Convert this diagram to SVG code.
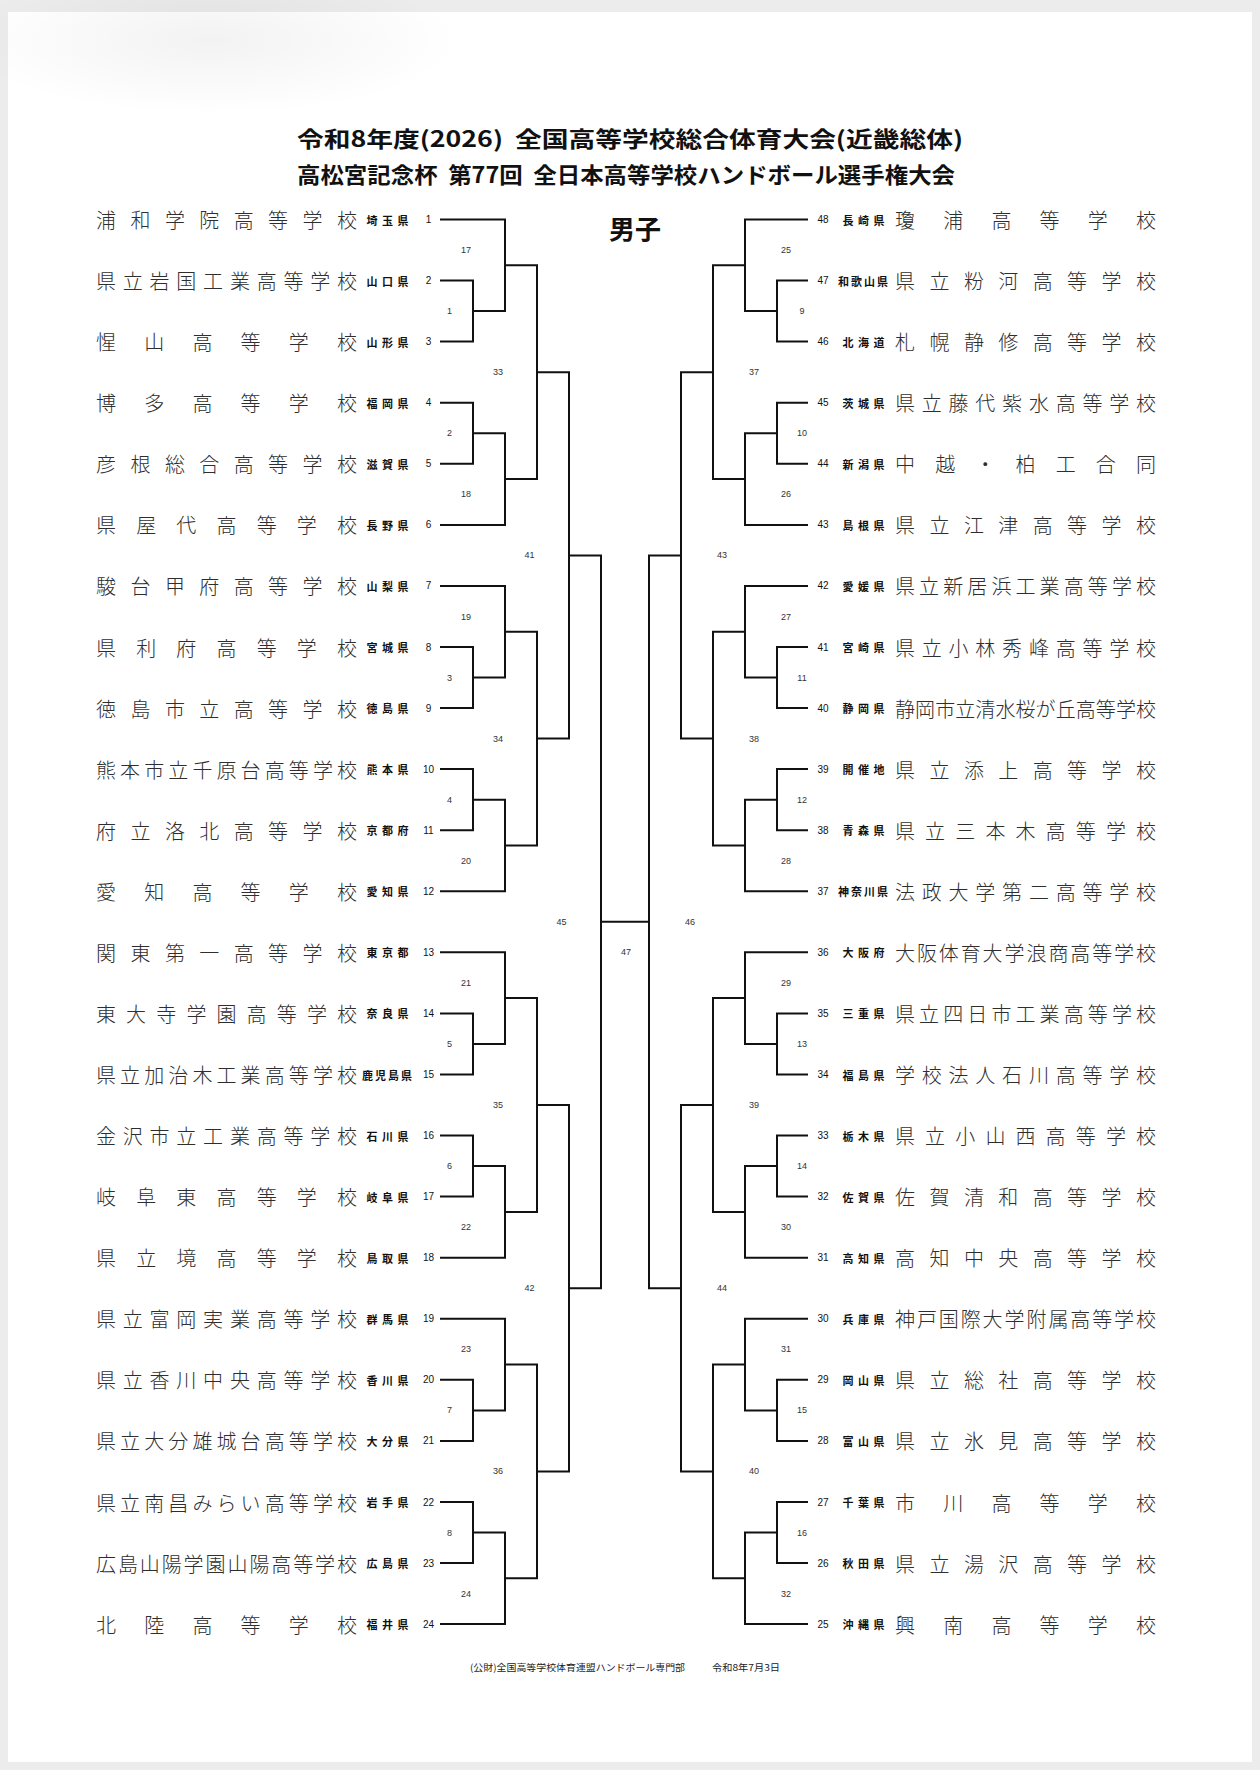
<svg xmlns="http://www.w3.org/2000/svg" width="1260" height="1770" viewBox="0 0 1260 1770">
<defs>
<radialGradient id="shade" cx="0.5" cy="0.5" r="0.5">
<stop offset="0" stop-color="#000" stop-opacity="0.05"/>
<stop offset="1" stop-color="#000" stop-opacity="0"/>
</radialGradient>
<style>
.nm{font-family:"Noto Sans CJK JP","Noto Sans CJK SC",sans-serif;font-size:20px;font-weight:300;fill:#2e2e2e;dominant-baseline:central}
.pf{font-family:"Noto Sans CJK JP","Noto Sans CJK SC",sans-serif;font-size:11px;font-weight:bold;fill:#111;dominant-baseline:central}
.no{font-family:"Liberation Sans",Arial,sans-serif;font-size:10px;fill:#111;text-anchor:middle;dominant-baseline:central}
.lb{font-family:"Liberation Sans",Arial,sans-serif;font-size:9px;fill:#333;text-anchor:middle;dominant-baseline:central}
.ttl{font-family:"Noto Sans CJK JP","Noto Sans CJK SC",sans-serif;font-weight:bold;fill:#111;text-anchor:middle;dominant-baseline:central}
.ft{font-family:"Noto Sans CJK JP","Noto Sans CJK SC",sans-serif;font-size:9.5px;fill:#222;dominant-baseline:central}
.ln{fill:none;stroke:#111;stroke-width:2;stroke-linejoin:miter;stroke-linecap:butt}
</style>
</defs>
<rect width="1260" height="1770" fill="#ececec"/>
<rect x="8" y="12" width="1244" height="1750" fill="#ffffff"/>
<ellipse cx="210" cy="40" rx="250" ry="75" fill="url(#shade)"/>

<g id="title">
<text class="ttl" x="630" y="136.5" font-size="22" textLength="666" lengthAdjust="spacingAndGlyphs">令和8年度(2026)&#160;&#160;全国高等学校総合体育大会(近畿総体)</text>
<text class="ttl" x="626" y="173" font-size="22" textLength="658" lengthAdjust="spacingAndGlyphs">高松宮記念杯&#160;&#160;第77回&#160;&#160;全日本高等学校ハンドボール選手権大会</text>
<text class="ttl" x="635" y="227" font-size="26">男子</text>
</g>

<g id="connectors" class="ln">
<path d="M440,219.5H505V311.1H473M440,280.6H473V341.6H440M440,402.7H473V463.8H440M473,433.2H505V524.9H440M505,265.3H537V479.1H505"/>
<path d="M440,585.9H505V677.5H473M440,647H473V708.1H440M440,769.1H473V830.2H440M473,799.7H505V891.3H440M505,631.7H537V845.5H505"/>
<path d="M440,952.3H505V1044H473M440,1013.4H473V1074.5H440M440,1135.6H473V1196.6H440M473,1166.1H505V1257.7H440M505,998.1H537V1211.9H505"/>
<path d="M440,1318.8H505V1410.4H473M440,1379.8H473V1440.9H440M440,1502H473V1563H440M473,1532.5H505V1624.1H440M505,1364.6H537V1578.3H505"/>
<path d="M537,372.2H569V738.6H537M537,1105H569V1471.4H537M569,555.4H601V1288.2H569"/>
<path d="M808,219.5H745V311.1H777M808,280.6H777V341.6H808M808,402.7H777V463.8H808M777,433.2H745V524.9H808M745,265.3H713V479.1H745"/>
<path d="M808,585.9H745V677.5H777M808,647H777V708.1H808M808,769.1H777V830.2H808M777,799.7H745V891.3H808M745,631.7H713V845.5H745"/>
<path d="M808,952.3H745V1044H777M808,1013.4H777V1074.5H808M808,1135.6H777V1196.6H808M777,1166.1H745V1257.7H808M745,998.1H713V1211.9H745"/>
<path d="M808,1318.8H745V1410.4H777M808,1379.8H777V1440.9H808M808,1502H777V1563H808M777,1532.5H745V1624.1H808M745,1364.6H713V1578.3H745"/>
<path d="M713,372.2H681V738.6H713M713,1105H681V1471.4H713M681,555.4H649V1288.2H681"/>
<path d="M601,921.8H649"/>
</g>

<g id="match-labels" class="lb">
<text x="466" y="250">17</text><text x="449.5" y="311.1">1</text><text x="498" y="372.2">33</text><text x="449.5" y="433.2">2</text><text x="466" y="494.3">18</text><text x="529.5" y="555.4">41</text>
<text x="466" y="616.5">19</text><text x="449.5" y="677.5">3</text><text x="498" y="738.6">34</text><text x="449.5" y="799.7">4</text><text x="466" y="860.7">20</text><text x="561.5" y="921.8">45</text>
<text x="466" y="982.9">21</text><text x="449.5" y="1044">5</text><text x="498" y="1105">35</text><text x="449.5" y="1166.1">6</text><text x="466" y="1227.2">22</text><text x="529.5" y="1288.2">42</text>
<text x="466" y="1349.3">23</text><text x="449.5" y="1410.4">7</text><text x="498" y="1471.4">36</text><text x="449.5" y="1532.5">8</text><text x="466" y="1593.6">24</text>
<text x="786" y="250">25</text><text x="802" y="311.1">9</text><text x="754" y="372.2">37</text><text x="802" y="433.2">10</text><text x="786" y="494.3">26</text><text x="722" y="555.4">43</text>
<text x="786" y="616.5">27</text><text x="802" y="677.5">11</text><text x="754" y="738.6">38</text><text x="802" y="799.7">12</text><text x="786" y="860.7">28</text><text x="690" y="921.8">46</text>
<text x="786" y="982.9">29</text><text x="802" y="1044">13</text><text x="754" y="1105">39</text><text x="802" y="1166.1">14</text><text x="786" y="1227.2">30</text><text x="722" y="1288.2">44</text>
<text x="786" y="1349.3">31</text><text x="802" y="1410.4">15</text><text x="754" y="1471.4">40</text><text x="802" y="1532.5">16</text><text x="786" y="1593.6">32</text>
<text x="626" y="952.3">47</text>
</g>

<g id="t1"><text class="nm" x="96 130.4 164.9 199.3 233.7 268.1 302.6 337" y="219.5">浦和学院高等学校</text><text class="pf" x="366.5 382 397.5" y="219.5">埼玉県</text><text class="no" x="428.5" y="219.5">1</text></g>
<g id="t2"><text class="nm" x="96 122.8 149.6 176.3 203.1 229.9 256.7 283.4 310.2 337" y="280.6">県立岩国工業高等学校</text><text class="pf" x="366.5 382 397.5" y="280.6">山口県</text><text class="no" x="428.5" y="280.6">2</text></g>
<g id="t3"><text class="nm" x="96 144.2 192.4 240.6 288.8 337" y="341.6">惺山高等学校</text><text class="pf" x="366.5 382 397.5" y="341.6">山形県</text><text class="no" x="428.5" y="341.6">3</text></g>
<g id="t4"><text class="nm" x="96 144.2 192.4 240.6 288.8 337" y="402.7">博多高等学校</text><text class="pf" x="366.5 382 397.5" y="402.7">福岡県</text><text class="no" x="428.5" y="402.7">4</text></g>
<g id="t5"><text class="nm" x="96 130.4 164.9 199.3 233.7 268.1 302.6 337" y="463.8">彦根総合高等学校</text><text class="pf" x="366.5 382 397.5" y="463.8">滋賀県</text><text class="no" x="428.5" y="463.8">5</text></g>
<g id="t6"><text class="nm" x="96 136.2 176.3 216.5 256.7 296.8 337" y="524.9">県屋代高等学校</text><text class="pf" x="366.5 382 397.5" y="524.9">長野県</text><text class="no" x="428.5" y="524.9">6</text></g>
<g id="t7"><text class="nm" x="96 130.4 164.9 199.3 233.7 268.1 302.6 337" y="585.9">駿台甲府高等学校</text><text class="pf" x="366.5 382 397.5" y="585.9">山梨県</text><text class="no" x="428.5" y="585.9">7</text></g>
<g id="t8"><text class="nm" x="96 136.2 176.3 216.5 256.7 296.8 337" y="647">県利府高等学校</text><text class="pf" x="366.5 382 397.5" y="647">宮城県</text><text class="no" x="428.5" y="647">8</text></g>
<g id="t9"><text class="nm" x="96 130.4 164.9 199.3 233.7 268.1 302.6 337" y="708.1">徳島市立高等学校</text><text class="pf" x="366.5 382 397.5" y="708.1">徳島県</text><text class="no" x="428.5" y="708.1">9</text></g>
<g id="t10"><text class="nm" x="96 120.1 144.2 168.3 192.4 216.5 240.6 264.7 288.8 312.9 337" y="769.1">熊本市立千原台高等学校</text><text class="pf" x="366.5 382 397.5" y="769.1">熊本県</text><text class="no" x="428.5" y="769.1">10</text></g>
<g id="t11"><text class="nm" x="96 130.4 164.9 199.3 233.7 268.1 302.6 337" y="830.2">府立洛北高等学校</text><text class="pf" x="366.5 382 397.5" y="830.2">京都府</text><text class="no" x="428.5" y="830.2">11</text></g>
<g id="t12"><text class="nm" x="96 144.2 192.4 240.6 288.8 337" y="891.3">愛知高等学校</text><text class="pf" x="366.5 382 397.5" y="891.3">愛知県</text><text class="no" x="428.5" y="891.3">12</text></g>
<g id="t13"><text class="nm" x="96 130.4 164.9 199.3 233.7 268.1 302.6 337" y="952.3">関東第一高等学校</text><text class="pf" x="366.5 382 397.5" y="952.3">東京都</text><text class="no" x="428.5" y="952.3">13</text></g>
<g id="t14"><text class="nm" x="96 126.1 156.3 186.4 216.5 246.6 276.8 306.9 337" y="1013.4">東大寺学園高等学校</text><text class="pf" x="366.5 382 397.5" y="1013.4">奈良県</text><text class="no" x="428.5" y="1013.4">14</text></g>
<g id="t15"><text class="nm" x="96 120.1 144.2 168.3 192.4 216.5 240.6 264.7 288.8 312.9 337" y="1074.5">県立加治木工業高等学校</text><text class="pf" x="362 375 388 401" y="1074.5">鹿児島県</text><text class="no" x="428.5" y="1074.5">15</text></g>
<g id="t16"><text class="nm" x="96 122.8 149.6 176.3 203.1 229.9 256.7 283.4 310.2 337" y="1135.6">金沢市立工業高等学校</text><text class="pf" x="366.5 382 397.5" y="1135.6">石川県</text><text class="no" x="428.5" y="1135.6">16</text></g>
<g id="t17"><text class="nm" x="96 136.2 176.3 216.5 256.7 296.8 337" y="1196.6">岐阜東高等学校</text><text class="pf" x="366.5 382 397.5" y="1196.6">岐阜県</text><text class="no" x="428.5" y="1196.6">17</text></g>
<g id="t18"><text class="nm" x="96 136.2 176.3 216.5 256.7 296.8 337" y="1257.7">県立境高等学校</text><text class="pf" x="366.5 382 397.5" y="1257.7">鳥取県</text><text class="no" x="428.5" y="1257.7">18</text></g>
<g id="t19"><text class="nm" x="96 122.8 149.6 176.3 203.1 229.9 256.7 283.4 310.2 337" y="1318.8">県立富岡実業高等学校</text><text class="pf" x="366.5 382 397.5" y="1318.8">群馬県</text><text class="no" x="428.5" y="1318.8">19</text></g>
<g id="t20"><text class="nm" x="96 122.8 149.6 176.3 203.1 229.9 256.7 283.4 310.2 337" y="1379.8">県立香川中央高等学校</text><text class="pf" x="366.5 382 397.5" y="1379.8">香川県</text><text class="no" x="428.5" y="1379.8">20</text></g>
<g id="t21"><text class="nm" x="96 120.1 144.2 168.3 192.4 216.5 240.6 264.7 288.8 312.9 337" y="1440.9">県立大分雄城台高等学校</text><text class="pf" x="366.5 382 397.5" y="1440.9">大分県</text><text class="no" x="428.5" y="1440.9">21</text></g>
<g id="t22"><text class="nm" x="96 120.1 144.2 168.3 192.4 216.5 240.6 264.7 288.8 312.9 337" y="1502">県立南昌みらい高等学校</text><text class="pf" x="366.5 382 397.5" y="1502">岩手県</text><text class="no" x="428.5" y="1502">22</text></g>
<g id="t23"><text class="nm" x="96 117.9 139.8 161.7 183.6 205.5 227.5 249.4 271.3 293.2 315.1 337" y="1563">広島山陽学園山陽高等学校</text><text class="pf" x="366.5 382 397.5" y="1563">広島県</text><text class="no" x="428.5" y="1563">23</text></g>
<g id="t24"><text class="nm" x="96 144.2 192.4 240.6 288.8 337" y="1624.1">北陸高等学校</text><text class="pf" x="366.5 382 397.5" y="1624.1">福井県</text><text class="no" x="428.5" y="1624.1">24</text></g>

<g id="t48"><text class="no" x="823" y="219.5">48</text><text class="pf" x="842.5 858 873.5" y="219.5">長崎県</text><text class="nm" x="895 943.2 991.4 1039.6 1087.8 1136" y="219.5">瓊浦高等学校</text></g>
<g id="t47"><text class="no" x="823" y="280.6">47</text><text class="pf" x="838 851 864 877" y="280.6">和歌山県</text><text class="nm" x="895 929.4 963.9 998.3 1032.7 1067.1 1101.6 1136" y="280.6">県立粉河高等学校</text></g>
<g id="t46"><text class="no" x="823" y="341.6">46</text><text class="pf" x="842.5 858 873.5" y="341.6">北海道</text><text class="nm" x="895 929.4 963.9 998.3 1032.7 1067.1 1101.6 1136" y="341.6">札幌静修高等学校</text></g>
<g id="t45"><text class="no" x="823" y="402.7">45</text><text class="pf" x="842.5 858 873.5" y="402.7">茨城県</text><text class="nm" x="895 921.8 948.6 975.3 1002.1 1028.9 1055.7 1082.4 1109.2 1136" y="402.7">県立藤代紫水高等学校</text></g>
<g id="t44"><text class="no" x="823" y="463.8">44</text><text class="pf" x="842.5 858 873.5" y="463.8">新潟県</text><text class="nm" x="895 935.2 975.3 1015.5 1055.7 1095.8 1136" y="463.8">中越・柏工合同</text></g>
<g id="t43"><text class="no" x="823" y="524.9">43</text><text class="pf" x="842.5 858 873.5" y="524.9">島根県</text><text class="nm" x="895 929.4 963.9 998.3 1032.7 1067.1 1101.6 1136" y="524.9">県立江津高等学校</text></g>
<g id="t42"><text class="no" x="823" y="585.9">42</text><text class="pf" x="842.5 858 873.5" y="585.9">愛媛県</text><text class="nm" x="895 919.1 943.2 967.3 991.4 1015.5 1039.6 1063.7 1087.8 1111.9 1136" y="585.9">県立新居浜工業高等学校</text></g>
<g id="t41"><text class="no" x="823" y="647">41</text><text class="pf" x="842.5 858 873.5" y="647">宮崎県</text><text class="nm" x="895 921.8 948.6 975.3 1002.1 1028.9 1055.7 1082.4 1109.2 1136" y="647">県立小林秀峰高等学校</text></g>
<g id="t40"><text class="no" x="823" y="708.1">40</text><text class="pf" x="842.5 858 873.5" y="708.1">静岡県</text><text class="nm" x="895 915.1 935.2 955.3 975.3 995.4 1015.5 1035.6 1055.7 1075.8 1095.8 1115.9 1136" y="708.1">静岡市立清水桜が丘高等学校</text></g>
<g id="t39"><text class="no" x="823" y="769.1">39</text><text class="pf" x="842.5 858 873.5" y="769.1">開催地</text><text class="nm" x="895 929.4 963.9 998.3 1032.7 1067.1 1101.6 1136" y="769.1">県立添上高等学校</text></g>
<g id="t38"><text class="no" x="823" y="830.2">38</text><text class="pf" x="842.5 858 873.5" y="830.2">青森県</text><text class="nm" x="895 925.1 955.3 985.4 1015.5 1045.6 1075.8 1105.9 1136" y="830.2">県立三本木高等学校</text></g>
<g id="t37"><text class="no" x="823" y="891.3">37</text><text class="pf" x="838 851 864 877" y="891.3">神奈川県</text><text class="nm" x="895 921.8 948.6 975.3 1002.1 1028.9 1055.7 1082.4 1109.2 1136" y="891.3">法政大学第二高等学校</text></g>
<g id="t36"><text class="no" x="823" y="952.3">36</text><text class="pf" x="842.5 858 873.5" y="952.3">大阪府</text><text class="nm" x="895 916.9 938.8 960.7 982.6 1004.5 1026.5 1048.4 1070.3 1092.2 1114.1 1136" y="952.3">大阪体育大学浪商高等学校</text></g>
<g id="t35"><text class="no" x="823" y="1013.4">35</text><text class="pf" x="842.5 858 873.5" y="1013.4">三重県</text><text class="nm" x="895 919.1 943.2 967.3 991.4 1015.5 1039.6 1063.7 1087.8 1111.9 1136" y="1013.4">県立四日市工業高等学校</text></g>
<g id="t34"><text class="no" x="823" y="1074.5">34</text><text class="pf" x="842.5 858 873.5" y="1074.5">福島県</text><text class="nm" x="895 921.8 948.6 975.3 1002.1 1028.9 1055.7 1082.4 1109.2 1136" y="1074.5">学校法人石川高等学校</text></g>
<g id="t33"><text class="no" x="823" y="1135.6">33</text><text class="pf" x="842.5 858 873.5" y="1135.6">栃木県</text><text class="nm" x="895 925.1 955.3 985.4 1015.5 1045.6 1075.8 1105.9 1136" y="1135.6">県立小山西高等学校</text></g>
<g id="t32"><text class="no" x="823" y="1196.6">32</text><text class="pf" x="842.5 858 873.5" y="1196.6">佐賀県</text><text class="nm" x="895 929.4 963.9 998.3 1032.7 1067.1 1101.6 1136" y="1196.6">佐賀清和高等学校</text></g>
<g id="t31"><text class="no" x="823" y="1257.7">31</text><text class="pf" x="842.5 858 873.5" y="1257.7">高知県</text><text class="nm" x="895 929.4 963.9 998.3 1032.7 1067.1 1101.6 1136" y="1257.7">高知中央高等学校</text></g>
<g id="t30"><text class="no" x="823" y="1318.8">30</text><text class="pf" x="842.5 858 873.5" y="1318.8">兵庫県</text><text class="nm" x="895 916.9 938.8 960.7 982.6 1004.5 1026.5 1048.4 1070.3 1092.2 1114.1 1136" y="1318.8">神戸国際大学附属高等学校</text></g>
<g id="t29"><text class="no" x="823" y="1379.8">29</text><text class="pf" x="842.5 858 873.5" y="1379.8">岡山県</text><text class="nm" x="895 929.4 963.9 998.3 1032.7 1067.1 1101.6 1136" y="1379.8">県立総社高等学校</text></g>
<g id="t28"><text class="no" x="823" y="1440.9">28</text><text class="pf" x="842.5 858 873.5" y="1440.9">富山県</text><text class="nm" x="895 929.4 963.9 998.3 1032.7 1067.1 1101.6 1136" y="1440.9">県立氷見高等学校</text></g>
<g id="t27"><text class="no" x="823" y="1502">27</text><text class="pf" x="842.5 858 873.5" y="1502">千葉県</text><text class="nm" x="895 943.2 991.4 1039.6 1087.8 1136" y="1502">市川高等学校</text></g>
<g id="t26"><text class="no" x="823" y="1563">26</text><text class="pf" x="842.5 858 873.5" y="1563">秋田県</text><text class="nm" x="895 929.4 963.9 998.3 1032.7 1067.1 1101.6 1136" y="1563">県立湯沢高等学校</text></g>
<g id="t25"><text class="no" x="823" y="1624.1">25</text><text class="pf" x="842.5 858 873.5" y="1624.1">沖縄県</text><text class="nm" x="895 943.2 991.4 1039.6 1087.8 1136" y="1624.1">興南高等学校</text></g>

<g id="footer">
<text class="ft" x="470" y="1667" textLength="215" lengthAdjust="spacingAndGlyphs">(公財)全国高等学校体育連盟ハンドボール専門部</text>
<text class="ft" x="712" y="1667" textLength="68" lengthAdjust="spacingAndGlyphs">令和8年7月3日</text>
</g>
</svg>
